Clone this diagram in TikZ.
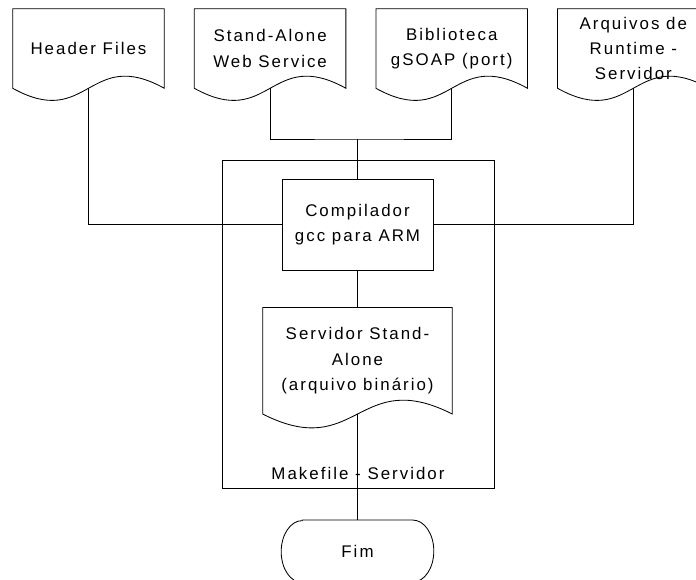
\documentclass[tikz,border=0pt]{standalone}
\usepackage{fontspec}
\setmainfont{Liberation Sans}[LetterSpace=12]
\usetikzlibrary{positioning, calc}

\begin{document}
\begin{tikzpicture}[x=0.025cm, y=0.025cm]
  \newcommand\docwidth{3.775cm}
  \newcommand\docheight{1.975cm}
  \newcommand\docspacing{0.75cm}
  \newcommand\termrx{0.525cm}
  \newcommand\termry{0.775cm}

  \tikzset{line/.style={draw=black, line width=0.6pt}}
  \tikzset{every node/.style={font=\fontsize{12}{18}\selectfont, align=center, inner sep=0pt}}

  \tikzset{docnode/.style={minimum width=\docwidth, minimum height=\docheight,
    append after command={\pgfextra{\draw[line] (\tikzlastnode.north west) -- (\tikzlastnode.south west)
      .. controls ($(\tikzlastnode.south)+(0,-#1)$) and ($(\tikzlastnode.south)+(0,#1)$) .. (\tikzlastnode.south east)
      -- (\tikzlastnode.north east) -- cycle;}}}}
  \tikzset{docnode/.default=1.05cm}
  \tikzset{procnode/.style={line, minimum width=\docwidth, minimum height=2.275cm}}
  \tikzset{termnode/.style={minimum width=3.8cm, minimum height=1.55cm,
    append after command={\pgfextra{\draw[line] ($(\tikzlastnode.north west)+(\termrx,0)$) -- ($(\tikzlastnode.north east)-(\termrx,0)$)
      arc[start angle=90, end angle=-90, x radius=\termrx, y radius=\termry] -- ($(\tikzlastnode.south west)+(\termrx,0)$)
      arc[start angle=270, end angle=90, x radius=\termrx, y radius=\termry] -- cycle;}}}}

  \useasboundingbox (0,0) rectangle (696,579);

  \node[line, minimum width=6.8cm, minimum height=8.2cm] at (358,255) (mkf) {};
  \node[above=0.22cm of mkf.south] (mkflbl) {Makefile - Servidor};

  \node[docnode] at (88.5,530.5) (hdr) {Header Files};
  \node[docnode, right=\docspacing of hdr] (sawsvc) {Stand-Alone\\Web Service};
  \node[docnode, right=\docspacing of sawsvc] (gsoap) {Biblioteca\\gSOAP (port)};
  \node[docnode, right=\docspacing of gsoap] (runtime) {Arquivos de\\Runtime -\\Servidor};

  \node[procnode] at (357.5,354.5) (comp) {Compilador\\gcc para ARM};
  \node[docnode=1.2cm, minimum width=4.725cm, minimum height=2.65cm, below=0.925cm of comp] (srv) {Servidor Stand-\\Alone\\(arquivo bin\'ario)};
  \node[termnode, below=2.65cm of srv] (fim) {Fim};

  % connectors
  \coordinate (jn) at (357.5,440);
  \draw[line] (sawsvc.south) |- (jn) -| (gsoap.south);
  \draw[line] (jn) -- (comp.north);
  \draw[line] (hdr.south) |- (comp.west);
  \draw[line] (runtime.south) |- (comp.east);
  \draw[line] (comp.south) -- (srv.north);
  \draw[line] (srv.south) -- (fim.north);
\end{tikzpicture}
\end{document}
